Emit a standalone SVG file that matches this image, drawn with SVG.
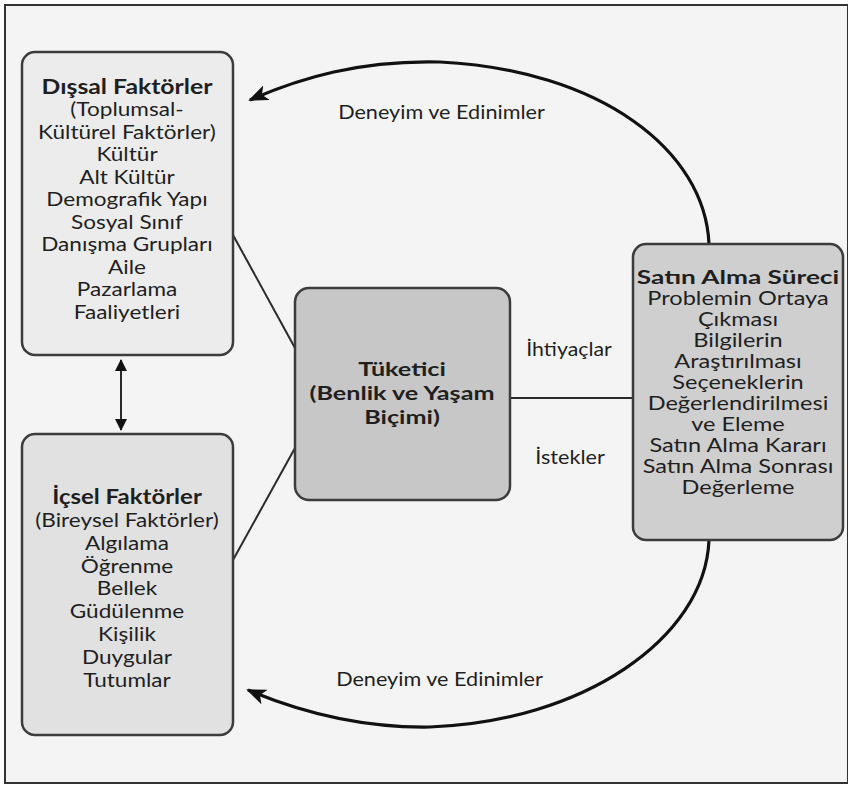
<svg xmlns="http://www.w3.org/2000/svg" width="848" height="785" viewBox="0 0 848 785">
<style>
text { font-family: "Lato", "Open Sans", "Liberation Sans", sans-serif; fill: #1f1f1f; text-anchor: middle; }
.n { font-size: 20px; }
.b { font-size: 20px; font-weight: bold; }
.rn { font-size: 19px; }
.rb { font-size: 19px; font-weight: bold; }
.cb { font-size: 19.5px; font-weight: bold; }
.lbl { font-size: 18.5px; }
.box { stroke: #3c3c3c; stroke-width: 2.5; }
.ln { stroke: #2a2a2a; stroke-width: 2; fill: none; }
.arc { stroke: #111; stroke-width: 3.2; fill: none; }
</style>
<defs>
<marker id="ah" viewBox="0 0 20 16" refX="18" refY="8" markerWidth="20" markerHeight="16" markerUnits="userSpaceOnUse" orient="auto">
<path d="M0,0 L20,8 L0,16 L5,8 Z" fill="#111"/>
</marker>
<marker id="dh" viewBox="0 0 12 12" refX="11" refY="6" markerWidth="12" markerHeight="12" markerUnits="userSpaceOnUse" orient="auto-start-reverse">
<path d="M0,0 L12,6 L0,12 Z" fill="#111"/>
</marker>
</defs>
<rect x="0" y="0" width="848" height="785" fill="#ffffff"/>
<rect x="5" y="5" width="843" height="778" fill="#f4f4f4" stroke="#333" stroke-width="2"/>

<g id="connectors">
<path class="arc" d="M 709 244 C 705 150, 600 70, 440 62 C 360 60, 300 78, 250 100" marker-end="url(#ah)"/>
<path class="arc" d="M 709 540 C 705 640, 580 722, 430 727 C 360 728, 300 712, 248 690" marker-end="url(#ah)"/>
<line class="ln" x1="233" y1="235" x2="295" y2="348"/>
<line class="ln" x1="233" y1="560" x2="295" y2="448"/>
<line class="ln" x1="510" y1="398" x2="633" y2="398"/>
<line class="ln" x1="121" y1="360" x2="121" y2="430" marker-start="url(#dh)" marker-end="url(#dh)"/>
<g transform="translate(441.5 0) scale(1.17 1)"><text class="lbl" x="0" y="119.5">Deneyim ve Edinimler</text></g>
<g transform="translate(439.5 0) scale(1.17 1)"><text class="lbl" x="0" y="686.5">Deneyim ve Edinimler</text></g>
<g transform="translate(569 0) scale(1.15 1)"><text class="lbl" x="0" y="356.5">İhtiyaçlar</text></g>
<g transform="translate(570 0) scale(1.17 1)"><text class="lbl" x="0" y="464.5">İstekler</text></g>
</g>

<g id="dissal">
<rect class="box" x="22" y="52" width="211" height="303" rx="13" fill="#ececec"/>
<g transform="translate(127 0) scale(1.24 1)"><text class="b" x="0" y="94">Dışsal Faktörler</text></g>
<g transform="translate(127 0) scale(1.13 1)">
<text class="n" x="0" y="116.5">(Toplumsal-</text>
<text class="n" x="0" y="139">Kültürel Faktörler)</text>
<text class="n" x="0" y="161.5">Kültür</text>
<text class="n" x="0" y="184">Alt Kültür</text>
<text class="n" x="0" y="206.5">Demografik Yapı</text>
<text class="n" x="0" y="229">Sosyal Sınıf</text>
<text class="n" x="0" y="251.5">Danışma Grupları</text>
<text class="n" x="0" y="274">Aile</text>
<text class="n" x="0" y="296.5">Pazarlama</text>
<text class="n" x="0" y="319">Faaliyetleri</text>
</g>
</g>

<g id="icsel">
<rect class="box" x="22" y="434" width="211" height="301" rx="13" fill="#e1e1e1"/>
<g transform="translate(127 0) scale(1.2 1)"><text class="b" x="0" y="504">İçsel Faktörler</text></g>
<g transform="translate(127 0) scale(1.13 1)">
<text class="n" x="0" y="527">(Bireysel Faktörler)</text>
<text class="n" x="0" y="550">Algılama</text>
<text class="n" x="0" y="573">Öğrenme</text>
<text class="n" x="0" y="595.5">Bellek</text>
<text class="n" x="0" y="618.5">Güdülenme</text>
<text class="n" x="0" y="641">Kişilik</text>
<text class="n" x="0" y="664">Duygular</text>
<text class="n" x="0" y="687">Tutumlar</text>
</g>
</g>

<g id="tuketici">
<rect class="box" x="295" y="288" width="215" height="212" rx="14" fill="#c7c7c7"/>
<g transform="translate(402 0) scale(1.29 1)">
<text class="cb" x="0" y="376.5">Tüketici</text>
<text class="cb" x="0" y="400.5">(Benlik ve Yaşam</text>
<text class="cb" x="0" y="424.5">Biçimi)</text>
</g>
</g>

<g id="satin-alma">
<rect class="box" x="633" y="244" width="210" height="296" rx="13" fill="#cfcfcf"/>
<g transform="translate(738 0) scale(1.38 1)"><text class="rb" x="0" y="284">Satın Alma Süreci</text></g>
<g transform="translate(738 0) scale(1.24 1)">
<text class="rn" x="0" y="305">Problemin Ortaya</text>
<text class="rn" x="0" y="326">Çıkması</text>
<text class="rn" x="0" y="347">Bilgilerin</text>
<text class="rn" x="0" y="368">Araştırılması</text>
<text class="rn" x="0" y="389">Seçeneklerin</text>
<text class="rn" x="0" y="410">Değerlendirilmesi</text>
<text class="rn" x="0" y="431">ve Eleme</text>
<text class="rn" x="0" y="452">Satın Alma Kararı</text>
<text class="rn" x="0" y="473">Satın Alma Sonrası</text>
<text class="rn" x="0" y="494">Değerleme</text>
</g>
</g>
</svg>
